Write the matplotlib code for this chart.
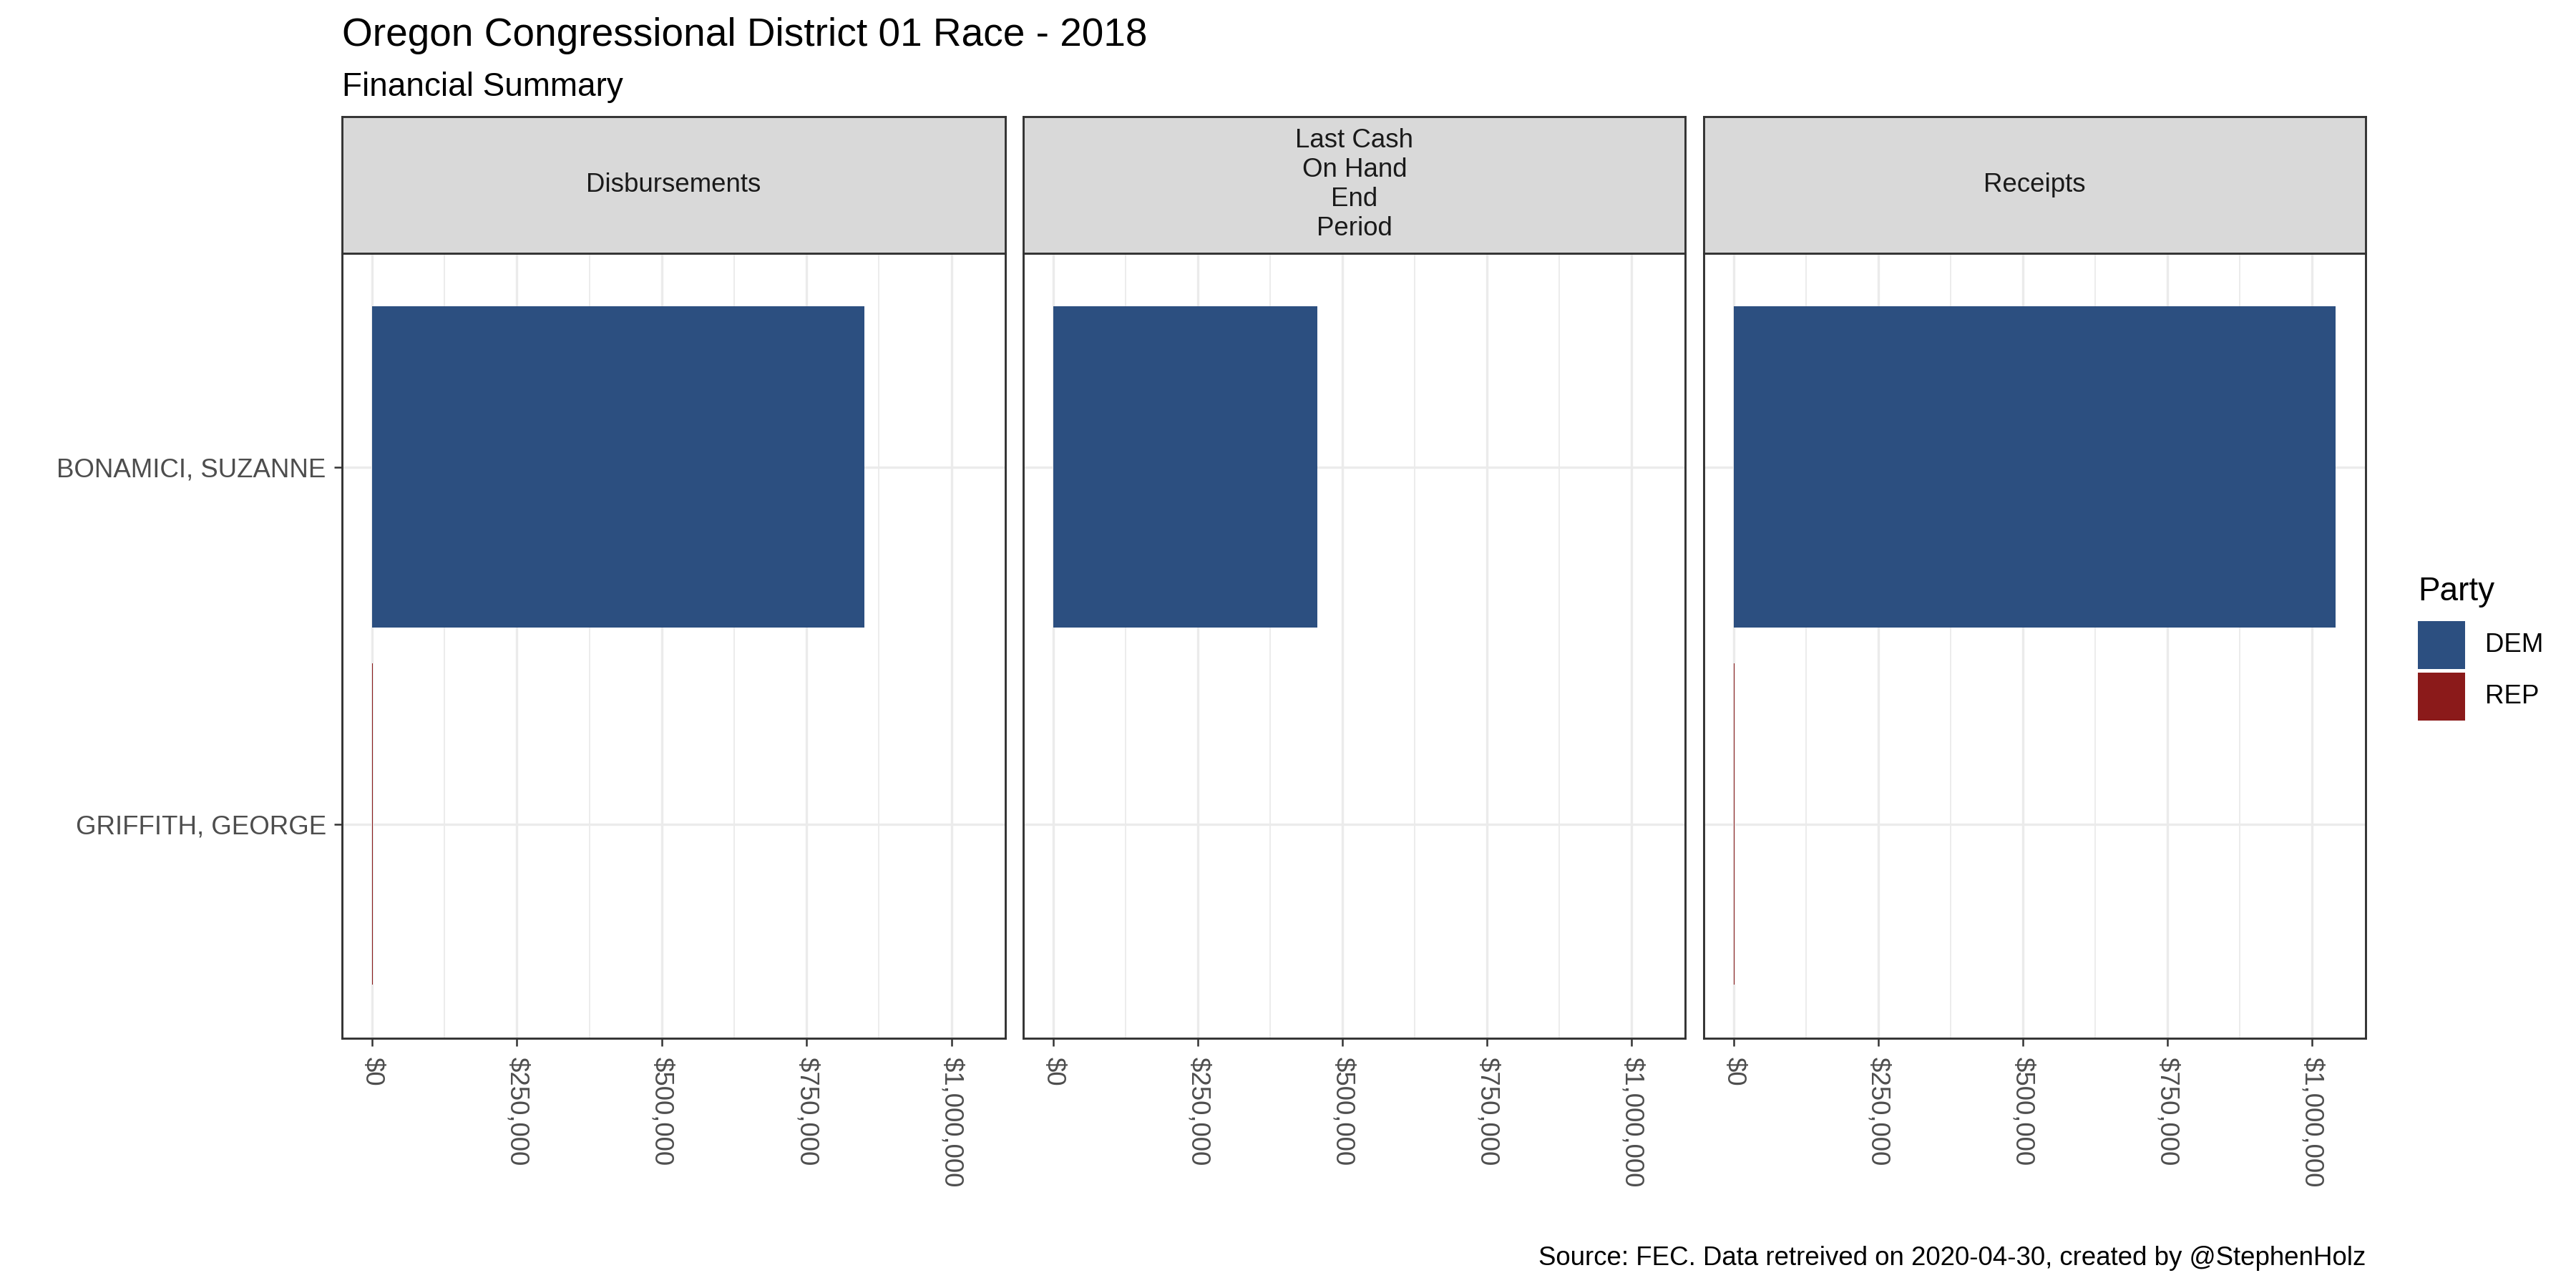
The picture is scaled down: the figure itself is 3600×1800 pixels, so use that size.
import matplotlib
matplotlib.use("Agg")
import matplotlib.pyplot as plt
from matplotlib.ticker import FixedLocator, FuncFormatter
from matplotlib.patches import Rectangle

plt.rcParams['font.family'] = ['Liberation Sans', 'DejaVu Sans']

# ---- data ----
candidates = ["BONAMICI, SUZANNE", "GRIFFITH, GEORGE"]
parties = ["DEM", "REP"]
facets = ["Disbursements", "Last Cash\nOn Hand\nEnd\nPeriod", "Receipts"]
disbursements = [850000, 1500]
cash_on_hand = [456000, 0]
receipts = [1041000, 1500]
party_colors = {"DEM": "#2C4F80", "REP": "#8B1A1A"}
legend_parties = ["DEM", "REP"]
x_major = [0, 250000, 500000, 750000, 1000000]
x_minor = [125000, 375000, 625000, 875000]

title = "Oregon Congressional District 01 Race - 2018"
subtitle = "Financial Summary"
caption = "Source: FEC. Data retreived on 2020-04-30, created by @StephenHolz"
legend_title = "Party"

values = [disbursements, cash_on_hand, receipts]
vmax = max(max(v) for v in values)
xlim = (-0.05 * vmax, 1.05 * vmax)

fig = plt.figure(figsize=(12, 6), dpi=300)

panel_x = [(0.1327, 0.3903), (0.3973, 0.6543), (0.6614, 0.9184)]
strip_top, strip_bot, panel_bot = 0.9094, 0.8036, 0.1939

border_col = "#333333"
grid_col = "#EBEBEB"
text_col = "#4D4D4D"

ypos = [2, 1]

for i, (x0, x1) in enumerate(panel_x):
    ax = fig.add_axes([x0, panel_bot, x1 - x0, strip_bot - panel_bot])
    vals = values[i]
    for j, cand in enumerate(candidates):
        if vals[j] > 0:
            ax.barh(ypos[j], vals[j], height=0.9, color=party_colors[parties[j]],
                    linewidth=0, zorder=3)
    ax.set_xlim(*xlim)
    ax.set_ylim(0.4, 2.6)
    ax.xaxis.set_major_locator(FixedLocator(x_major))
    ax.xaxis.set_minor_locator(FixedLocator(x_minor))
    ax.xaxis.set_major_formatter(FuncFormatter(lambda v, p: "${:,.0f}".format(v)))
    ax.set_yticks(ypos)
    ax.grid(which="major", color=grid_col, linewidth=0.8, zorder=0)
    ax.grid(which="minor", axis="x", color=grid_col, linewidth=0.45, zorder=0)
    ax.set_axisbelow(True)
    ax.tick_params(axis="x", which="minor", length=0)
    ax.tick_params(axis="x", which="major", length=2.75, width=0.6, color=border_col,
                   labelcolor=text_col, labelsize=8.8, pad=3.5)
    for lbl in ax.get_xticklabels():
        lbl.set_rotation(-90)
        lbl.set_va("top")
        lbl.set_ha("center")
    if i == 0:
        ax.set_yticklabels(candidates)
        ax.tick_params(axis="y", length=2.75, width=0.6, color=border_col,
                       labelcolor=text_col, labelsize=8.8, pad=2.5)
    else:
        ax.tick_params(axis="y", length=0, labelleft=False)
    for s in ax.spines.values():
        s.set_color(border_col)
        s.set_linewidth(0.7)
        s.set_zorder(5)

    sax = fig.add_axes([x0, strip_bot, x1 - x0, strip_top - strip_bot])
    sax.set_facecolor("#D9D9D9")
    sax.set_xticks([])
    sax.set_yticks([])
    for s in sax.spines.values():
        s.set_color(border_col)
        s.set_linewidth(0.7)
    sax.text(0.5, 0.5, facets[i], ha="center", va="center", fontsize=8.8,
             color="#1A1A1A", transform=sax.transAxes, linespacing=1.22)

fig.text(0.1327, 0.972, title, ha="left", va="center", fontsize=13.2, color="black")
fig.text(0.1327, 0.9325, subtitle, ha="left", va="center", fontsize=11, color="black")
fig.text(0.9184, 0.023, caption, ha="right", va="center", fontsize=8.8, color="black")

# legend (ggplot-style keys)
fig.text(0.9386, 0.5339, legend_title, ha="left", va="baseline", fontsize=11, color="black")
key_w, key_h = 0.0183, 0.0372
key_tops = [0.5178, 0.4778]
for p, top in zip(legend_parties, key_tops):
    fig.add_artist(Rectangle((0.9386, top - key_h), key_w, key_h,
                             transform=fig.transFigure, facecolor=party_colors[p],
                             edgecolor="none"))
    fig.text(0.9647, top - key_h / 2, p, ha="left", va="center", fontsize=8.8,
             color="black")

fig.savefig("out.png", dpi=300)
